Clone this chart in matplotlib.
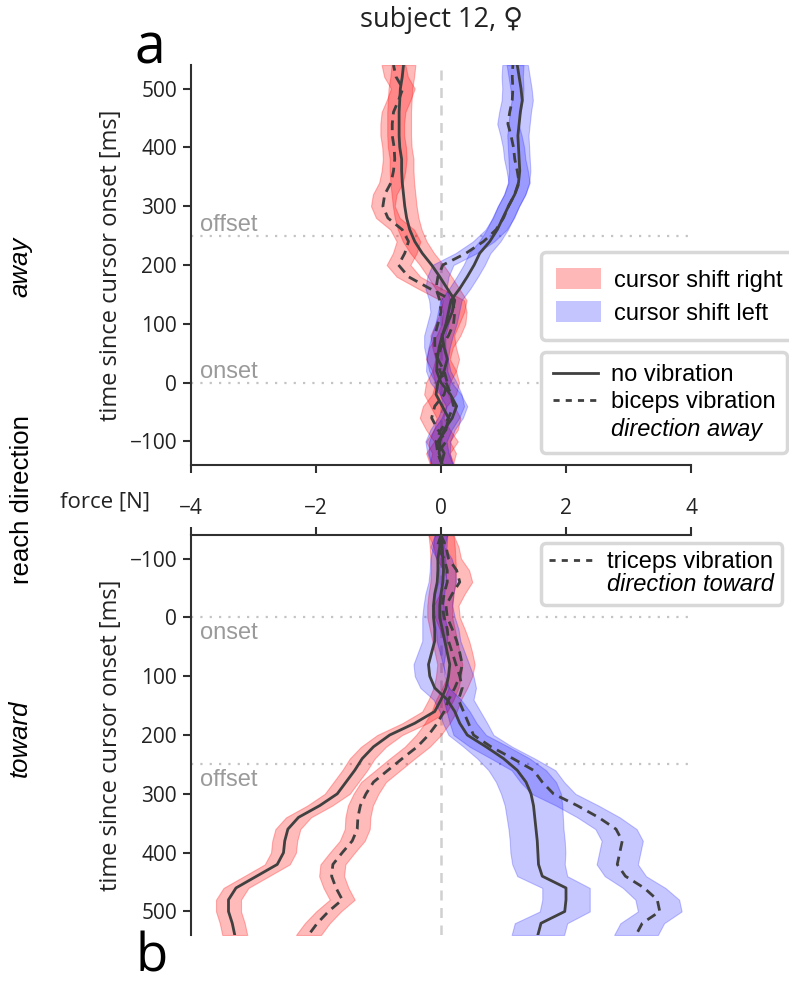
import numpy as np
import matplotlib
matplotlib.use("Agg")
import matplotlib.pyplot as plt
from matplotlib.patches import Patch
from matplotlib.lines import Line2D

# ---------------- data ----------------
time_ms = list(range(-140, 541, 20))

# panel a: reach direction away
away_right_novib = [0.00, 0.05, -0.05, 0.08, 0.12, 0.02, -0.08, -0.05, 0.05, 0.10, 0.05, 0.02, 0.10, 0.18,
                    0.22, 0.10, -0.02, -0.15, -0.30, -0.42, -0.50, -0.55, -0.58, -0.60, -0.62, -0.63, -0.63,
                    -0.66, -0.67, -0.67, -0.67, -0.66, -0.65, -0.62, -0.60]
away_right_vib = [0.02, -0.05, 0.08, -0.05, -0.15, -0.10, 0.05, 0.10, 0.05, -0.05, 0.00, 0.12, 0.20, 0.22,
                  0.18, -0.18, -0.52, -0.68, -0.58, -0.52, -0.62, -0.85, -0.93, -0.90, -0.80, -0.76, -0.74,
                  -0.75, -0.78, -0.78, -0.76, -0.68, -0.61, -0.72, -0.76]
away_left_novib = [0.02, -0.03, -0.02, 0.05, 0.18, 0.25, 0.15, 0.00, -0.07, -0.06, -0.03, 0.02, 0.08, 0.12,
                   0.16, 0.30, 0.42, 0.53, 0.62, 0.78, 0.90, 0.99, 1.08, 1.18, 1.24, 1.26, 1.25, 1.24, 1.23,
                   1.25, 1.27, 1.30, 1.28, 1.25, 1.22]
away_left_vib = [0.02, -0.05, -0.08, 0.00, 0.12, 0.20, 0.16, 0.08, -0.02, -0.06, -0.10, -0.10, -0.05, 0.00,
                 -0.02, -0.08, -0.05, 0.03, 0.40, 0.68, 0.88, 1.00, 1.08, 1.18, 1.25, 1.22, 1.18, 1.16, 1.12,
                 1.07, 1.10, 1.14, 1.15, 1.14, 1.15]

# panel b: reach direction toward
toward_right_novib = [0.00, 0.02, 0.03, 0.04, 0.03, 0.00, -0.02, -0.02, 0.02, 0.06, 0.10, 0.14, 0.12, 0.08,
                      0.00, -0.10, -0.42, -0.82, -1.08, -1.26, -1.38, -1.52, -1.66, -1.94, -2.28, -2.45,
                      -2.50, -2.52, -2.62, -2.95, -3.28, -3.40, -3.40, -3.34, -3.30]
toward_right_vib = [0.00, 0.08, 0.12, 0.25, 0.30, 0.18, 0.08, 0.10, 0.18, 0.25, 0.30, 0.34, 0.30, 0.22, 0.12,
                    0.05, -0.06, -0.20, -0.38, -0.62, -0.85, -1.08, -1.20, -1.29, -1.33, -1.34, -1.42, -1.58,
                    -1.73, -1.75, -1.68, -1.58, -1.80, -1.98, -2.12]
toward_left_novib = [0.00, -0.02, -0.05, -0.05, -0.06, -0.10, -0.12, -0.12, -0.10, -0.10, -0.15, -0.20, -0.18,
                     -0.10, 0.10, 0.22, 0.30, 0.42, 0.72, 1.00, 1.22, 1.36, 1.44, 1.48, 1.50, 1.52, 1.54, 1.55,
                     1.56, 1.62, 2.00, 2.00, 1.98, 1.60, 1.55]
toward_left_vib = [0.00, -0.06, 0.05, 0.10, 0.10, 0.05, 0.02, 0.05, 0.10, 0.12, 0.18, 0.24, 0.30, 0.34, 0.28,
                   0.36, 0.44, 0.52, 0.80, 1.15, 1.48, 1.62, 1.80, 2.18, 2.52, 2.80, 2.90, 2.86, 2.82, 2.95,
                   3.25, 3.46, 3.50, 3.22, 3.12]

# half widths of the shaded bands [N]
away_band = [0.19, 0.19, 0.17, 0.17]
toward_right_band = 0.2
toward_left_novib_band = [0.10, 0.11, 0.12, 0.13, 0.14, 0.15, 0.16, 0.18, 0.20, 0.20, 0.22, 0.24, 0.24, 0.23,
                          0.22, 0.24, 0.27, 0.30, 0.36, 0.42, 0.46, 0.48, 0.48, 0.46, 0.45, 0.44, 0.44, 0.44,
                          0.42, 0.40, 0.38, 0.38, 0.40, 0.42, 0.42]
toward_left_vib_band = [0.10, 0.11, 0.12, 0.13, 0.14, 0.15, 0.16, 0.17, 0.18, 0.19, 0.20, 0.21, 0.22, 0.22,
                        0.24, 0.27, 0.30, 0.32, 0.34, 0.35, 0.35, 0.35, 0.35, 0.34, 0.34, 0.33, 0.33, 0.33,
                        0.33, 0.33, 0.34, 0.35, 0.35, 0.35, 0.35]
toward_band = [toward_right_band, toward_right_band, toward_left_novib_band, toward_left_vib_band]

xticks = [-4, -2, 0, 2, 4]
yticks = [-100, 0, 100, 200, 300, 400, 500]

# ---------------- style ----------------
plt.rcParams['font.family'] = ['Open Sans', 'DejaVu Sans']

W, H = 789, 986
fig = plt.figure(figsize=(W / 100, H / 100), dpi=100)

def fx(px):
    return px / W

def fy(py):
    return 1 - py / H

ax_a = fig.add_axes([fx(191), fy(465), fx(691) - fx(191), fy(65) - fy(465)])
ax_b = fig.add_axes([fx(191), fy(935), fx(691) - fx(191), fy(535) - fy(935)])

RED = (1.0, 0.0, 0.0)
BLUE = (0.0, 0.0, 1.0)
ALPHA = {RED: 0.27, BLUE: 0.22}
LINE = '#404040'
SPINE = '#303030'
TXT = '#222222'
t = np.array(time_ms)


def draw(ax, series, bands):
    for (vals, col, ls), hw in zip(series, bands):
        v = np.array(vals)
        hw = np.array(hw)
        ax.fill_betweenx(t, v - hw, v + hw, color=col, alpha=ALPHA[col], lw=0.8,
                         edgecolor=(*col, 0.2), zorder=2)
    for (vals, col, ls), hw in zip(series, bands):
        kw = dict(color=LINE, lw=2.0, zorder=4)
        if ls == '--':
            kw['dashes'] = (3.5, 2.2)
        ax.plot(vals, t, **kw)


draw(ax_a, [(away_right_novib, RED, '-'), (away_right_vib, RED, '--'),
            (away_left_novib, BLUE, '-'), (away_left_vib, BLUE, '--')], away_band)
draw(ax_b, [(toward_right_novib, RED, '-'), (toward_right_vib, RED, '--'),
            (toward_left_novib, BLUE, '-'), (toward_left_vib, BLUE, '--')], toward_band)

for ax in (ax_a, ax_b):
    ax.set_xlim(-4, 4)
    ax.set_xticks(xticks)
    ax.set_yticks(yticks)
    ax.axvline(0, color='#d0d0d0', lw=1.8, dashes=(4, 3), zorder=1)
    for yy in (0, 250):
        ax.axhline(yy, color='#c4c4c4', lw=1.6, dashes=(1, 3.2), zorder=1)
    ax.spines['right'].set_visible(False)
    ax.tick_params(axis='y', length=6, width=1.5, color=SPINE, labelsize=15,
                   labelcolor=TXT, pad=4)
    ax.set_ylabel('time since cursor onset [ms]', fontsize=17, color=TXT, labelpad=5)

ax_a.set_ylim(-140, 540)
ax_a.spines['top'].set_visible(False)
for s in ('left', 'bottom'):
    ax_a.spines[s].set_linewidth(1.5)
    ax_a.spines[s].set_color(SPINE)
ax_a.tick_params(axis='x', length=6, width=1.5, color=SPINE, labelsize=15,
                 labelcolor=TXT, pad=18)
ax_a.set_xticklabels(['\u22124', '\u22122', '0', '2', '4'])

ax_b.set_ylim(540, -140)
ax_b.spines['bottom'].set_visible(False)
for s in ('left', 'top'):
    ax_b.spines[s].set_linewidth(1.5)
    ax_b.spines[s].set_color(SPINE)
ax_b.xaxis.tick_top()
ax_b.tick_params(axis='x', length=6, width=1.5, color=SPINE, labeltop=False, labelbottom=False,
                 top=True, bottom=False)

# onset / offset labels
GRAY = '#9a9a9a'
lab_kw = dict(fontsize=17, color=GRAY, family='Liberation Sans', va='center')
ax_a.text(-3.86, 18, 'onset', **lab_kw)
ax_a.text(-3.86, 268, 'offset', **lab_kw)
ax_b.text(-3.86, 26, 'onset', **lab_kw)
ax_b.text(-3.86, 276, 'offset', **lab_kw)

# legends
prop = {'family': 'Liberation Sans', 'size': 17}

h1 = [Patch(facecolor=RED, alpha=0.28, edgecolor='none'),
      Patch(facecolor=BLUE, alpha=0.23, edgecolor='none')]
l1 = ax_a.legend(h1, ['cursor shift right', 'cursor shift left'],
                 bbox_to_anchor=(0.70, 0.532), labelspacing=0.38,
                 prop=prop, frameon=True, fancybox=True,
                 framealpha=1.0, borderpad=0.65, handlelength=1.9, handleheight=1.05,
                 handletextpad=0.55, loc='upper left', borderaxespad=0)
ax_a.add_artist(l1)

h2 = [Line2D([], [], color=LINE, lw=2.0), Line2D([], [], color=LINE, lw=2.0, dashes=(2.2, 2.2)),
      Line2D([], [], color='none')]
l2 = ax_a.legend(h2, ['no vibration', 'biceps vibration', 'direction away'],
                 bbox_to_anchor=(0.70, 0.282), labelspacing=0.22,
                 prop=prop, frameon=True, fancybox=True,
                 framealpha=1.0, borderpad=0.5, handlelength=1.9,
                 handletextpad=0.55, loc='upper left', borderaxespad=0)
l2.get_texts()[2].set_fontstyle('italic')

h3 = [Line2D([], [], color=LINE, lw=2.0, dashes=(2.2, 2.2)), Line2D([], [], color='none')]
l3 = ax_b.legend(h3, ['triceps vibration', 'direction toward'],
                 bbox_to_anchor=(0.70, 0.98), labelspacing=0.0,
                 prop=prop, frameon=True, fancybox=True,
                 framealpha=1.0, borderpad=0.35, handlelength=1.9,
                 handletextpad=0.55, loc='upper left', borderaxespad=0)
l3.get_texts()[1].set_fontstyle('italic')

for lg in (l1, l2, l3):
    fr = lg.get_frame()
    fr.set_edgecolor('#d8d8d8')
    fr.set_linewidth(2.5)
    lg.set_zorder(10)

# figure texts
fig.text(fx(441), fy(20), 'subject 12, \u2640', fontsize=19.5, ha='center', va='center',
         color=TXT, family=['Open Sans', 'DejaVu Sans'])
fig.text(fx(150), fy(64), 'a', fontsize=40, ha='center', va='baseline', color='black')
fig.text(fx(152), fy(984), 'b', fontsize=38, ha='center', va='bottom', color='black')
fig.text(fx(105), fy(502), 'force [N]', fontsize=16, ha='center', va='center', color=TXT)
fig.text(fx(22), fy(500), 'reach direction', fontsize=18.5, rotation=90, ha='center', va='center',
         family='Liberation Sans', color='black')
fig.text(fx(20), fy(267), 'away', fontsize=18.5, rotation=90, ha='center', va='center',
         family='Liberation Sans', style='italic', color='black')
fig.text(fx(20), fy(738), 'toward', fontsize=18.5, rotation=90, ha='center', va='center',
         family='Liberation Sans', style='italic', color='black')

fig.savefig('out.png', dpi=100)
